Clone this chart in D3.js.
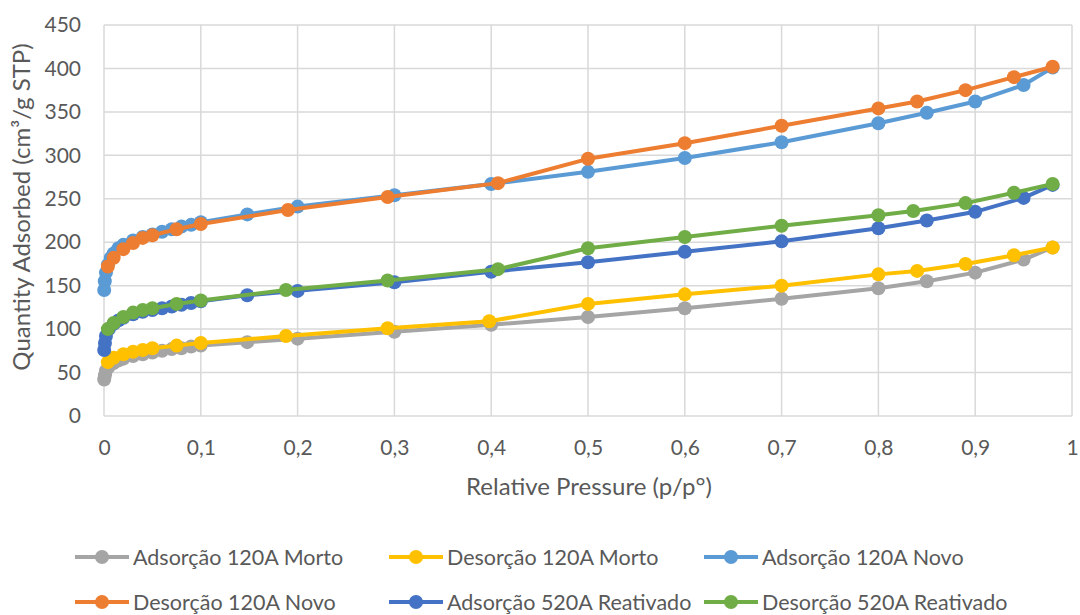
<!DOCTYPE html>
<html>
<head>
<meta charset="utf-8">
<script src="https://cdn.jsdelivr.net/npm/d3@7"></script>
<style>
  html, body { margin: 0; padding: 0; background: #fff; }
  svg text { font-family: Lato, "Open Sans", sans-serif; fill: #595959; }
</style>
</head>
<body>
<svg id="chart" width="1080" height="615"></svg>
<script>
// Nitrogen isotherms: [relative pressure, quantity adsorbed]
const adsMorto120 = [[0.0002,42],[0.001,47],[0.002,52],[0.005,57],[0.01,61],[0.015,64],[0.02,66],[0.03,69],[0.04,71],[0.05,73],[0.06,75],[0.07,77],[0.08,78],[0.09,80],[0.1,81],[0.148,85],[0.2,89],[0.3,97],[0.4,105],[0.5,114],[0.6,124],[0.7,135],[0.8,147],[0.85,155],[0.9,165],[0.95,180],[0.98,194]];
const desMorto120 = [[0.98,194],[0.94,185],[0.89,175],[0.84,167],[0.8,163],[0.7,150],[0.6,140],[0.5,129],[0.398,109],[0.293,101],[0.188,92],[0.1,84],[0.075,81],[0.05,78],[0.04,76],[0.03,74],[0.02,71],[0.01,67],[0.004,62]];
const adsNovo120 = [[0.0002,145],[0.0008,155],[0.002,165],[0.004,174],[0.007,182],[0.01,187],[0.015,193],[0.02,197],[0.03,202],[0.04,206],[0.05,209],[0.06,212],[0.07,215],[0.08,218],[0.09,220],[0.1,223],[0.148,232],[0.2,241],[0.3,254],[0.4,267],[0.5,281],[0.6,297],[0.7,315],[0.8,337],[0.85,349],[0.9,362],[0.95,381],[0.98,401]];
const desNovo120 = [[0.98,402],[0.94,390],[0.89,375],[0.84,362],[0.8,354],[0.7,334],[0.6,314],[0.5,296],[0.407,268],[0.293,252],[0.19,237],[0.1,221],[0.075,215],[0.05,208],[0.04,205],[0.03,199],[0.02,192],[0.01,182],[0.004,172]];
const adsReat520 = [[0.0002,76],[0.001,84],[0.002,92],[0.005,100],[0.01,106],[0.015,110],[0.02,113],[0.03,117],[0.04,120],[0.05,122],[0.06,124],[0.07,126],[0.08,128],[0.09,130],[0.1,132],[0.148,139],[0.2,144],[0.3,154],[0.4,166],[0.5,177],[0.6,189],[0.7,201],[0.8,216],[0.85,225],[0.9,235],[0.95,251],[0.98,266]];
const desReat520 = [[0.98,267],[0.94,257],[0.89,245],[0.836,236],[0.8,231],[0.7,219],[0.6,206],[0.5,193],[0.407,169],[0.293,156],[0.188,145],[0.1,133],[0.075,129],[0.05,124],[0.04,122],[0.03,119],[0.02,114],[0.01,107],[0.004,100]];

const seriesNames = ["Adsorção 120A Morto","Desorção 120A Morto","Adsorção 120A Novo","Desorção 120A Novo","Adsorção 520A Reativado","Desorção 520A Reativado"];
const seriesColors = ["#A5A5A5","#FFC000","#5B9BD5","#ED7D31","#4472C4","#70AD47"];
const seriesData = [adsMorto120, desMorto120, adsNovo120, desNovo120, adsReat520, desReat520];

const xTicks = [0,0.1,0.2,0.3,0.4,0.5,0.6,0.7,0.8,0.9,1];
const yTicks = [0,50,100,150,200,250,300,350,400,450];
const xTitle = "Relative Pressure (p/p°)";
const yTitle = "Quantity Adsorbed (cm³/g STP)";

const svg = d3.select("#chart");
const plot = {left: 104, right: 1072, top: 25, bottom: 416};

const x = d3.scaleLinear().domain([0, 1]).range([plot.left, plot.right]);
const y = d3.scaleLinear().domain([0, 450]).range([plot.bottom, plot.top]);
const fmt = v => String(v).replace(".", ",");

// gridlines
const grid = svg.append("g");
grid.selectAll("line.v").data(xTicks).join("line")
  .attr("x1", d => x(d)).attr("x2", d => x(d))
  .attr("y1", plot.top).attr("y2", plot.bottom)
  .attr("stroke", "#D9D9D9").attr("stroke-width", 1.5);
grid.selectAll("line.h").data(yTicks).join("line")
  .attr("x1", plot.left).attr("x2", plot.right)
  .attr("y1", d => y(d)).attr("y2", d => y(d))
  .attr("stroke", "#D9D9D9").attr("stroke-width", 1.5);

// axes (labels only; the frame comes from the gridlines)
const xAxis = svg.append("g")
  .attr("transform", `translate(0,${plot.bottom})`)
  .call(d3.axisBottom(x).tickValues(xTicks).tickFormat(fmt).tickSize(0).tickPadding(24));
const yAxis = svg.append("g")
  .attr("transform", `translate(${plot.left},0)`)
  .call(d3.axisLeft(y).tickValues(yTicks).tickSize(0).tickPadding(23));
[xAxis, yAxis].forEach(a => {
  a.select(".domain").remove();
  a.selectAll("text").attr("font-size", 21).attr("fill", "#595959")
    .style("font-family", "Lato, 'Open Sans', sans-serif");
});

// axis titles
svg.append("text").attr("x", 589).attr("y", 495)
  .attr("text-anchor", "middle").attr("font-size", 24).text(xTitle);
svg.append("text").attr("transform", "translate(30,207) rotate(-90)")
  .attr("text-anchor", "middle").attr("font-size", 24).text(yTitle);

// series
const line = d3.line().x(d => x(d[0])).y(d => y(d[1]));
seriesData.forEach((data, i) => {
  const g = svg.append("g");
  g.append("path").datum(data).attr("d", line)
    .attr("fill", "none").attr("stroke", seriesColors[i])
    .attr("stroke-width", 4).attr("stroke-linejoin", "round");
  g.selectAll("circle").data(data).join("circle")
    .attr("cx", d => x(d[0])).attr("cy", d => y(d[1])).attr("r", 7)
    .attr("fill", seriesColors[i]);
});

// legend
const legendPos = [[75,557],[389,557],[704,557],[75,602],[389,602],[704,602]];
seriesNames.forEach((name, i) => {
  const [lx, ly] = legendPos[i];
  const g = svg.append("g").attr("transform", `translate(${lx},${ly})`);
  g.append("line").attr("x1", 0).attr("x2", 54).attr("y1", 0).attr("y2", 0)
    .attr("stroke", seriesColors[i]).attr("stroke-width", 4);
  g.append("circle").attr("cx", 27).attr("cy", 0).attr("r", 7).attr("fill", seriesColors[i]);
  g.append("text").attr("x", 58).attr("y", 0).attr("dy", "0.35em")
    .attr("font-size", 21.5).text(name);
});
</script>
</body>
</html>
